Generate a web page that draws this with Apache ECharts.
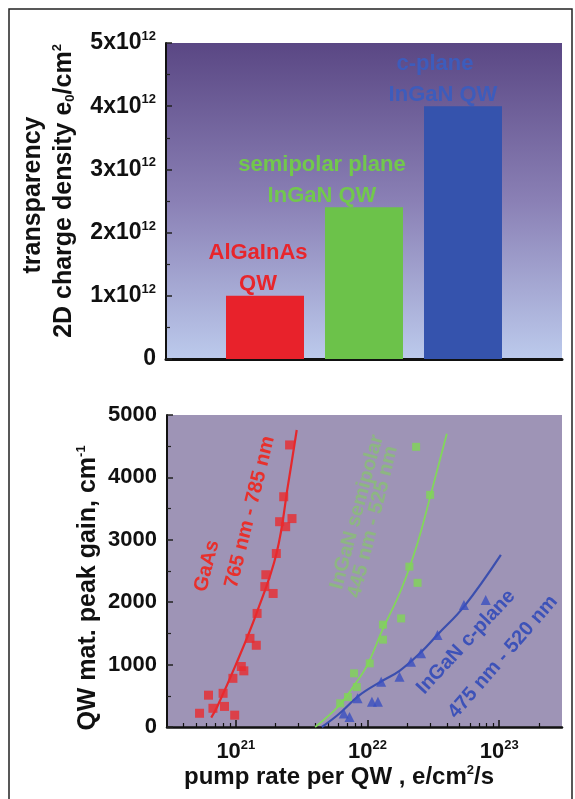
<!DOCTYPE html>
<html>
<head>
<meta charset="utf-8">
<script src="https://cdn.jsdelivr.net/npm/echarts@6/dist/echarts.min.js"></script>
<style>
html,body{margin:0;padding:0;background:#fff;}
#c{width:575px;height:799px;}
</style>
</head>
<body>
<div id="c"></div>
<script>
// ---- top panel: transparency carrier density ----
const barPositions = [1, 2, 3];
const barValues = [1.0e12, 2.4e12, 4.0e12];
const barLine1 = ['AlGaInAs', 'semipolar plane', 'c-plane'];
const barLine2 = ['QW', 'InGaN QW', 'InGaN QW'];
const barColors = ['#e8222b', '#6cc24a', '#3553ad'];
const barTextColors = ['#e8252b', '#72c84c', '#3d5cbc'];
const topTickExponent = 12;

// ---- bottom panel: peak gain vs pump rate ----
const gaasRate = [5.3e20, 6.2e20, 6.7e20, 8.0e20, 8.2e20, 9.8e20, 9.5e20, 1.1e21, 1.15e21, 1.28e21, 1.43e21, 1.45e21, 1.66e21, 1.69e21, 1.92e21, 2.03e21, 2.15e21, 2.31e21, 2.39e21, 2.67e21, 2.56e21];
const gaasGain = [220, 510, 300, 540, 330, 190, 780, 970, 900, 1420, 1310, 1820, 2250, 2440, 2140, 2780, 3290, 3690, 3210, 3340, 4520];
const gaasFitRate = [6.5e20, 7.2e20, 1.0e21, 1.44e21, 2.04e21, 2.5e21, 2.9e21];
const gaasFitGain = [150, 320, 1000, 1830, 2790, 3900, 4760];

const semiRate = [6.2e21, 7.1e21, 7.9e21, 8.3e21, 1.04e22, 1.31e22, 1.31e22, 1.8e22, 2.08e22, 2.4e22, 2.99e22, 2.34e22];
const semiGain = [380, 480, 860, 640, 1020, 1640, 1400, 1740, 2570, 2310, 3720, 4490];
const semiFitRate = [4.0e21, 6e21, 8e21, 1e22, 1.3e22, 1.8e22, 2.4e22, 3e22, 4e22];
const semiFitGain = [0, 330, 680, 1000, 1560, 2200, 2950, 3700, 4700];

const cRate = [6.6e21, 7.3e21, 8.4e21, 1.08e22, 1.2e22, 1.27e22, 1.75e22, 2.14e22, 2.55e22, 3.4e22, 5.4e22, 7.9e22];
const cGain = [215, 160, 460, 405, 405, 726, 806, 1047, 1181, 1474, 1955, 2035];
const cFitRate = [4.5e21, 6e21, 8.7e21, 1.27e22, 1.75e22, 2.55e22, 3.4e22, 5.4e22, 1.03e23];
const cFitGain = [0, 200, 510, 730, 900, 1200, 1480, 1930, 2760];

const xMajorTicks = [1e21, 1e22, 1e23];
const xMinorTicks = [4e20,5e20,6e20,7e20,8e20,9e20,2e21,3e21,4e21,5e21,6e21,7e21,8e21,9e21,2e22,3e22,4e22,5e22,6e22,7e22,8e22,9e22,2e23,3e23];

const FONT = "'Liberation Sans', Arial, Helvetica, sans-serif";
const zip = (a, b) => a.map((v, i) => [v, b[i]]);

const chart = echarts.init(document.getElementById('c'), null, {renderer: 'canvas'});

const topBg = new echarts.graphic.LinearGradient(0, 0, 0, 1, [
  {offset: 0, color: '#5a4784'},
  {offset: 0.5, color: '#8a80b5'},
  {offset: 1, color: '#bccaec'}
]);

function supRich(size) {
  return {
    b: {fontFamily: FONT, fontWeight: 'bold', fontSize: size, color: '#111'},
    sup: {fontFamily: FONT, fontWeight: 'bold', fontSize: 13, color: '#111', verticalAlign: 'top', padding: [0, 0, 13, 0]}
  };
}
const barLabelOffsets = [[-7, 0], [-42, 0], [-20, 0]];
const barLine1Pad = [0, 0, 16];

chart.setOption({
  animation: false,
  backgroundColor: '#ffffff',
  grid: [
    {left: 166, top: 43, width: 396, height: 316, show: true, backgroundColor: topBg, borderWidth: 0},
    {left: 167, top: 415, width: 395, height: 312, show: true, backgroundColor: '#9e94b6', borderWidth: 0}
  ],
  xAxis: [
    {gridIndex: 0, type: 'value', min: 0, max: 4,
     axisLine: {show: true, lineStyle: {color: '#111', width: 3}},
     axisTick: {show: false}, axisLabel: {show: false}, splitLine: {show: false}},
    {gridIndex: 1, type: 'log', logBase: 10, min: 3e20, max: 3e23,
     axisLine: {show: true, onZero: false, lineStyle: {color: '#111', width: 2.5}},
     axisTick: {show: true, inside: true, length: 7, customValues: xMajorTicks, lineStyle: {color: '#111', width: 1.5}},
     axisLabel: {show: true, customValues: xMajorTicks, margin: 12,
       formatter: function (v) { return '{b|10}{sup|' + Math.round(Math.log10(v)) + '}'; },
       rich: supRich(22)},
     splitLine: {show: false}, minorTick: {show: false}},
    {gridIndex: 1, type: 'log', logBase: 10, min: 3e20, max: 3e23, position: 'bottom',
     axisLine: {show: false},
     axisTick: {show: true, inside: true, length: 4, customValues: xMinorTicks, lineStyle: {color: '#111', width: 1.2}},
     axisLabel: {show: false}, splitLine: {show: false}}
  ],
  yAxis: [
    {gridIndex: 0, type: 'value', min: 0, max: 5e12, interval: 1e12,
     axisLine: {show: true, lineStyle: {color: '#111', width: 2}},
     axisTick: {show: true, inside: true, length: 6, lineStyle: {color: '#222', width: 1.5}},
     minorTick: {show: true, splitNumber: 2, length: 4, lineStyle: {color: '#222', width: 1.2}},
     axisLabel: {margin: 10, formatter: function (v) {
        if (v === 0) return '{b|0}';
        return '{b|' + Math.round(v / Math.pow(10, topTickExponent)) + 'x10}{sup|' + topTickExponent + '}';
     }, rich: supRich(23)},
     splitLine: {show: false}},
    {gridIndex: 1, type: 'value', min: 0, max: 5000, interval: 1000,
     axisLine: {show: true, lineStyle: {color: '#111', width: 2}},
     axisTick: {show: true, inside: true, length: 6, lineStyle: {color: '#222', width: 1.5}},
     minorTick: {show: true, splitNumber: 2, length: 4, lineStyle: {color: '#222', width: 1.2}},
     axisLabel: {margin: 10, fontFamily: FONT, fontWeight: 'bold', fontSize: 22, color: '#111',
       formatter: function (v) { return String(v); }},
     splitLine: {show: false}}
  ],
  series: [
    {type: 'bar', xAxisIndex: 0, yAxisIndex: 0, barWidth: 78,
     data: barPositions.map((p, i) => ({value: [p, barValues[i]], itemStyle: {color: barColors[i]},
       label: {show: true, position: 'top', distance: -4, offset: barLabelOffsets[i],
         formatter: '{a|' + barLine1[i] + '}\n{b|' + barLine2[i] + '}',
         rich: {
           a: {color: barTextColors[i], fontFamily: FONT, fontWeight: 'bold', fontSize: 22, lineHeight: 31, padding: [0, barLine1Pad[i], 0, 0]},
           b: {color: barTextColors[i], fontFamily: FONT, fontWeight: 'bold', fontSize: 22, lineHeight: 31}
         }}}))},
    {type: 'line', xAxisIndex: 1, yAxisIndex: 1, data: zip(gaasFitRate, gaasFitGain), smooth: 0.4, showSymbol: false,
     lineStyle: {color: '#e5282c', width: 2.2}, z: 3},
    {type: 'scatter', xAxisIndex: 1, yAxisIndex: 1, data: zip(gaasRate, gaasGain), symbol: 'rect', symbolSize: 9,
     itemStyle: {color: '#ea2a2e'}, z: 4},
    {type: 'line', xAxisIndex: 1, yAxisIndex: 1, data: zip(semiFitRate, semiFitGain), smooth: 0.4, showSymbol: false,
     lineStyle: {color: '#82d75b', width: 1.8}, z: 3},
    {type: 'scatter', xAxisIndex: 1, yAxisIndex: 1, data: zip(semiRate, semiGain), symbol: 'rect', symbolSize: 8,
     itemStyle: {color: '#7fd656'}, z: 4},
    {type: 'line', xAxisIndex: 1, yAxisIndex: 1, data: zip(cFitRate, cFitGain), smooth: 0.4, showSymbol: false,
     lineStyle: {color: '#3b4fae', width: 2.2}, z: 3},
    {type: 'scatter', xAxisIndex: 1, yAxisIndex: 1, data: zip(cRate, cGain), symbol: 'triangle', symbolSize: 10,
     itemStyle: {color: '#3a4fc0'}, z: 4}
  ],
  graphic: [
    {type: 'rect', shape: {x: 9, y: 9, width: 563, height: 800}, style: {fill: 'none', stroke: '#222', lineWidth: 1.5}, z: 100, silent: true},
    {type: 'text', x: 33, y: 195, rotation: Math.PI / 2,
     style: {text: 'transparency', x: 0, y: 0, align: 'center', verticalAlign: 'middle', font: 'bold 25px ' + FONT, fill: '#111'}},
    {type: 'text', x: 64, y: 191, rotation: Math.PI / 2,
     style: {text: '2D charge density e{sub|0}/cm{sup|2}', x: 0, y: 0, align: 'center', verticalAlign: 'middle', font: 'bold 25px ' + FONT, fill: '#111',
       rich: {sub: {font: 'bold 13px ' + FONT, fill: '#111', verticalAlign: 'bottom', padding: [11, 0, 0, 0]},
              sup: {font: 'bold 13px ' + FONT, fill: '#111', verticalAlign: 'top', padding: [0, 0, 13, 0]}}}},
    {type: 'text', x: 88, y: 588, rotation: Math.PI / 2,
     style: {text: 'QW mat. peak gain, cm{sup|-1}', x: 0, y: 0, align: 'center', verticalAlign: 'middle', font: 'bold 25px ' + FONT, fill: '#111',
       rich: {sup: {font: 'bold 13px ' + FONT, fill: '#111', verticalAlign: 'top', padding: [0, 0, 13, 0]}}}},
    {type: 'text', x: 339, y: 777,
     style: {text: 'pump rate per QW , e/cm{sup|2}/s', x: 0, y: 0, align: 'center', verticalAlign: 'middle', font: 'bold 24px ' + FONT, fill: '#111',
       rich: {sup: {font: 'bold 13px ' + FONT, fill: '#111', verticalAlign: 'top', padding: [0, 0, 13, 0]}}}},
    {type: 'text', x: 207, y: 566, rotation: 76 * Math.PI / 180, z: 50,
     style: {text: 'GaAs', x: 0, y: 0, align: 'center', verticalAlign: 'middle', font: 'bold 20px ' + FONT, fill: '#e8302c'}},
    {type: 'text', x: 250, y: 512, rotation: 76 * Math.PI / 180, z: 50,
     style: {text: '765 nm - 785 nm', x: 0, y: 0, align: 'center', verticalAlign: 'middle', font: 'bold 20px ' + FONT, fill: '#e8302c'}},
    {type: 'text', x: 357, y: 512, rotation: 75 * Math.PI / 180, z: 50,
     style: {text: 'InGaN semipolar', x: 0, y: 0, align: 'center', verticalAlign: 'middle', font: 'bold 20px ' + FONT, fill: 'rgba(130,205,95,0.6)'}},
    {type: 'text', x: 373, y: 522, rotation: 76 * Math.PI / 180, z: 50,
     style: {text: '445 nm - 525 nm', x: 0, y: 0, align: 'center', verticalAlign: 'middle', font: 'bold 20px ' + FONT, fill: 'rgba(130,205,95,0.6)'}},
    {type: 'text', x: 466, y: 642, rotation: 47 * Math.PI / 180, z: 50,
     style: {text: 'InGaN c-plane', x: 0, y: 0, align: 'center', verticalAlign: 'middle', font: 'bold 20px ' + FONT, fill: '#3d52b8'}},
    {type: 'text', x: 503, y: 657, rotation: 49 * Math.PI / 180, z: 50,
     style: {text: '475 nm - 520 nm', x: 0, y: 0, align: 'center', verticalAlign: 'middle', font: 'bold 20px ' + FONT, fill: '#3d52b8'}}
  ]
});
</script>
</body>
</html>
